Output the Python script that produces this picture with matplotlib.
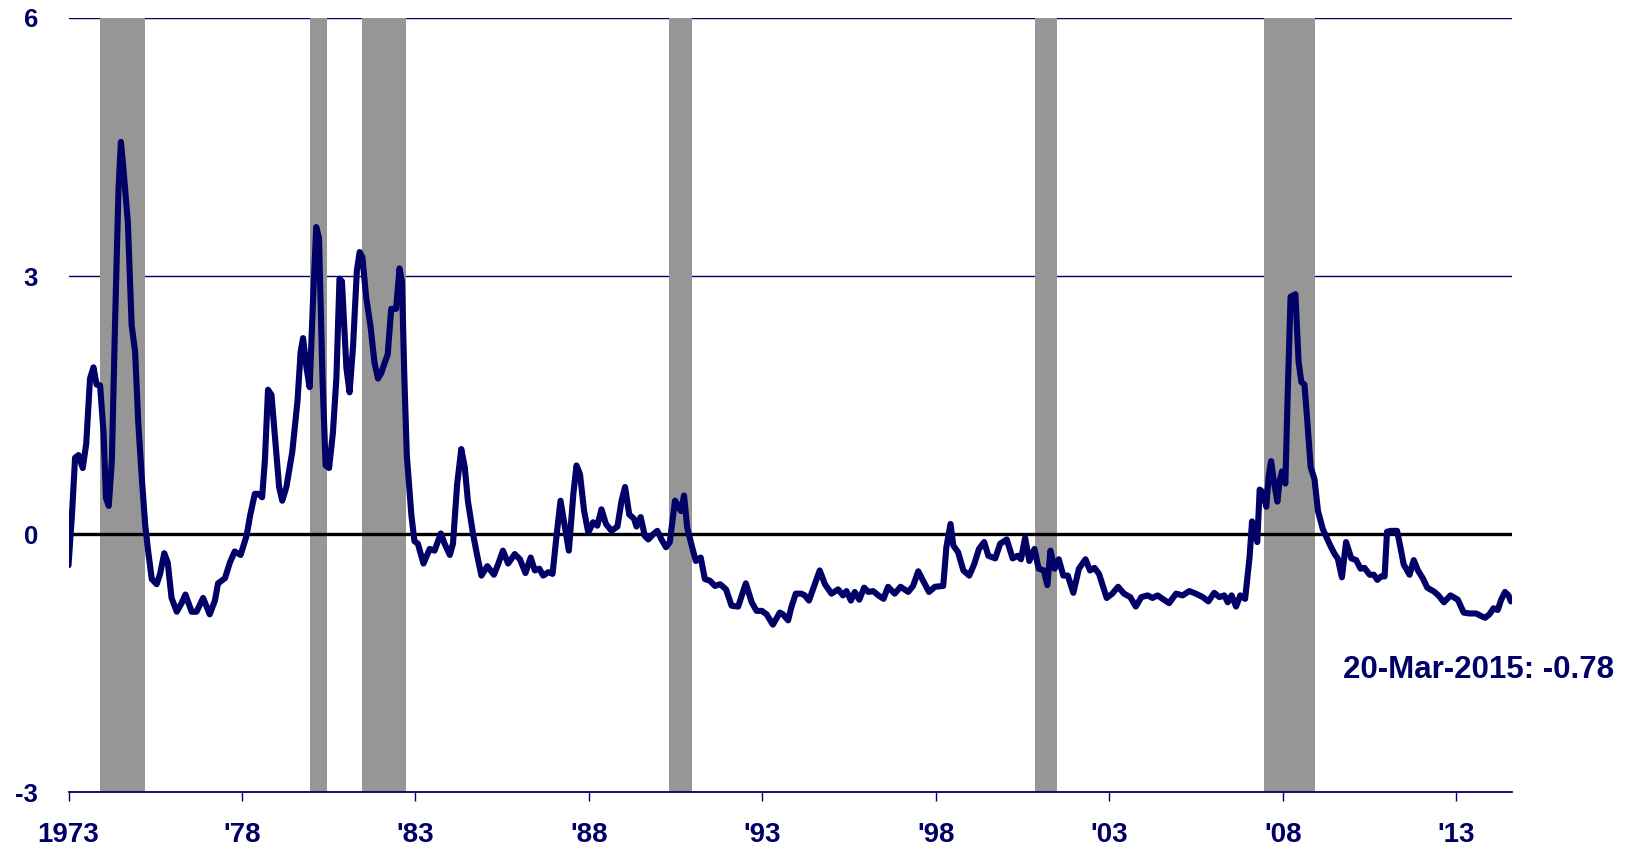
import numpy as np
import matplotlib
matplotlib.use("Agg")
import matplotlib.pyplot as plt

# series (x in the chart's year units)
years = [
    1973.00, 1973.10, 1973.19, 1973.29, 1973.41, 1973.51, 1973.62, 1973.72, 1973.81, 1973.91,
    1974.01, 1974.08, 1974.16, 1974.25, 1974.34, 1974.44, 1974.51, 1974.58, 1974.71, 1974.82,
    1974.92, 1975.01, 1975.11, 1975.21, 1975.30, 1975.40, 1975.54, 1975.64, 1975.76, 1975.86,
    1975.97, 1976.12, 1976.26, 1976.37, 1976.55, 1976.69, 1976.88, 1977.07, 1977.22, 1977.31,
    1977.51, 1977.65, 1977.79, 1977.96, 1978.13, 1978.24, 1978.37, 1978.47, 1978.58, 1978.66,
    1978.75, 1978.85, 1978.94, 1979.07, 1979.16, 1979.28, 1979.45, 1979.60, 1979.69, 1979.76,
    1979.86, 1979.95, 1980.05, 1980.14, 1980.22, 1980.32, 1980.41, 1980.51, 1980.62, 1980.72,
    1980.81, 1980.88, 1981.01, 1981.10, 1981.20, 1981.31, 1981.39, 1981.47, 1981.58, 1981.70,
    1981.82, 1981.92, 1982.01, 1982.11, 1982.20, 1982.30, 1982.44, 1982.54, 1982.61, 1982.68,
    1982.75, 1982.88, 1982.97,
    1983.07, 1983.23, 1983.41, 1983.55, 1983.73, 1983.84, 1983.99, 1984.08, 1984.20, 1984.32,
    1984.42, 1984.51, 1984.66, 1984.77, 1984.90, 1985.07, 1985.26, 1985.38, 1985.52, 1985.67,
    1985.86, 1986.01, 1986.17, 1986.32, 1986.44, 1986.57, 1986.68, 1986.83, 1986.95, 1987.07,
    1987.18, 1987.31, 1987.42, 1987.55, 1987.64, 1987.74, 1987.86, 1987.98, 1988.12, 1988.24,
    1988.36, 1988.49, 1988.65, 1988.82, 1988.94, 1989.04, 1989.16, 1989.30, 1989.37, 1989.49,
    1989.61, 1989.71, 1989.85, 1989.97, 1990.09, 1990.22, 1990.33, 1990.48, 1990.57, 1990.65,
    1990.74, 1990.83, 1990.96, 1991.08, 1991.22, 1991.34, 1991.49, 1991.63, 1991.78, 1991.95,
    1992.11, 1992.30, 1992.52, 1992.69, 1992.83, 1992.98, 1993.12, 1993.30,
    1993.50, 1993.59, 1993.74, 1993.83, 1993.96, 1994.12, 1994.22, 1994.34, 1994.51, 1994.65,
    1994.80, 1994.99, 1995.18, 1995.32, 1995.42, 1995.55, 1995.66, 1995.79, 1995.93, 1996.05,
    1996.19, 1996.34, 1996.49, 1996.62, 1996.81, 1996.98, 1997.20, 1997.34, 1997.49, 1997.63,
    1997.80, 1997.97, 1998.21, 1998.30, 1998.42, 1998.50, 1998.64, 1998.79, 1998.96, 1999.10,
    1999.24, 1999.39, 1999.51, 1999.71, 1999.85, 2000.04, 2000.21, 2000.35, 2000.45, 2000.57,
    2000.69, 2000.84, 2000.96, 2001.11, 2001.21, 2001.30, 2001.42, 2001.54, 2001.67, 2001.80,
    2001.96, 2002.12, 2002.31, 2002.44, 2002.57, 2002.70, 2002.92, 2003.08, 2003.25, 2003.42,
    2003.60, 2003.76, 2003.92, 2004.10, 2004.24, 2004.39, 2004.53, 2004.72, 2004.92, 2005.11,
    2005.30, 2005.49, 2005.69, 2005.85, 2006.02, 2006.17, 2006.31, 2006.41, 2006.52, 2006.65,
    2006.77, 2006.91,
    2007.04, 2007.11, 2007.18, 2007.26, 2007.33, 2007.42, 2007.52, 2007.59, 2007.66, 2007.74,
    2007.84, 2007.90, 2007.97, 2008.07, 2008.14, 2008.22, 2008.36, 2008.45, 2008.53, 2008.62,
    2008.70, 2008.80, 2008.91, 2009.01, 2009.15, 2009.34, 2009.49, 2009.58, 2009.70, 2009.82,
    2009.97, 2010.11, 2010.24, 2010.35, 2010.50, 2010.62, 2010.72, 2010.83, 2010.93, 2011.00,
    2011.12, 2011.29, 2011.39, 2011.48, 2011.65, 2011.77, 2011.89, 2012.03, 2012.16, 2012.37,
    2012.48, 2012.64, 2012.83, 2013.04, 2013.21, 2013.37, 2013.57, 2013.71, 2013.83, 2013.95,
    2014.07, 2014.19, 2014.29, 2014.40, 2014.50, 2014.57,
]
values = [
    -0.36, 0.23, 0.89, 0.92, 0.77, 1.05, 1.81, 1.94, 1.74, 1.73,
    1.18, 0.42, 0.33, 0.86, 2.43, 4.00, 4.56, 4.26, 3.63, 2.43,
    2.12, 1.30, 0.67, 0.11, -0.21, -0.52, -0.58, -0.46, -0.22, -0.33,
    -0.74, -0.90, -0.80, -0.70, -0.90, -0.90, -0.74, -0.93, -0.77, -0.57,
    -0.51, -0.33, -0.20, -0.24, -0.02, 0.23, 0.47, 0.47, 0.43, 0.86,
    1.68, 1.62, 1.18, 0.55, 0.39, 0.55, 0.96, 1.55, 2.12, 2.28,
    1.93, 1.71, 2.75, 3.57, 3.44, 1.81, 0.80, 0.77, 1.18, 1.81,
    2.97, 2.94, 1.93, 1.65, 2.18, 3.06, 3.28, 3.22, 2.75, 2.43,
    1.99, 1.81, 1.87, 1.99, 2.09, 2.62, 2.62, 3.09, 2.94, 1.81,
    0.92, 0.23, -0.08,
    -0.11, -0.34, -0.17, -0.19, 0.01, -0.11, -0.24, -0.11, 0.58, 0.99,
    0.78, 0.39, 0.00, -0.23, -0.48, -0.37, -0.47, -0.35, -0.19, -0.34,
    -0.23, -0.29, -0.45, -0.27, -0.42, -0.40, -0.48, -0.44, -0.46, 0.00,
    0.39, 0.08, -0.19, 0.47, 0.80, 0.70, 0.27, 0.02, 0.14, 0.10,
    0.29, 0.12, 0.04, 0.09, 0.39, 0.55, 0.23, 0.18, 0.09, 0.20,
    -0.02, -0.06, 0.00, 0.04, -0.06, -0.15, -0.09, 0.39, 0.33, 0.27,
    0.45, 0.08, -0.13, -0.31, -0.27, -0.52, -0.54, -0.60, -0.58, -0.64,
    -0.83, -0.84, -0.57, -0.79, -0.89, -0.89, -0.93, -1.05,
    -0.91, -0.93, -1.00, -0.85, -0.69, -0.69, -0.71, -0.77, -0.58, -0.42,
    -0.58, -0.69, -0.64, -0.71, -0.66, -0.77, -0.67, -0.76, -0.62, -0.67,
    -0.66, -0.71, -0.75, -0.61, -0.69, -0.61, -0.67, -0.60, -0.43, -0.54,
    -0.67, -0.61, -0.60, -0.15, 0.12, -0.13, -0.21, -0.42, -0.48, -0.35,
    -0.17, -0.09, -0.25, -0.28, -0.11, -0.06, -0.28, -0.25, -0.29, -0.04,
    -0.31, -0.17, -0.40, -0.42, -0.59, -0.19, -0.40, -0.29, -0.48, -0.48,
    -0.68, -0.40, -0.29, -0.42, -0.39, -0.46, -0.74, -0.69, -0.61, -0.69,
    -0.73, -0.84, -0.73, -0.71, -0.74, -0.71, -0.75, -0.80, -0.69, -0.71,
    -0.66, -0.69, -0.73, -0.78, -0.68, -0.73, -0.71, -0.79, -0.71, -0.84,
    -0.71, -0.75,
    -0.26, 0.15, 0.08, -0.09, 0.52, 0.49, 0.32, 0.68, 0.85, 0.61,
    0.38, 0.61, 0.73, 0.59, 1.67, 2.76, 2.79, 2.01, 1.77, 1.74,
    1.33, 0.78, 0.64, 0.27, 0.06, -0.11, -0.23, -0.28, -0.50, -0.09,
    -0.28, -0.30, -0.40, -0.39, -0.47, -0.47, -0.53, -0.49, -0.49, 0.03,
    0.04, 0.04, -0.16, -0.35, -0.47, -0.30, -0.42, -0.51, -0.62, -0.67,
    -0.71, -0.79, -0.71, -0.76, -0.91, -0.92, -0.92, -0.95, -0.97, -0.93,
    -0.86, -0.88, -0.76, -0.67, -0.71, -0.78,
]

# shaded recession periods (start, end) in the chart's year units
rec_start = [1973.90, 1979.97, 1981.46, 1990.30, 2000.85, 2007.46]
rec_end = [1975.20, 1980.44, 1982.74, 1990.96, 2001.50, 2008.92]

tick_years = [1973, 1978, 1983, 1988, 1993, 1998, 2003, 2008, 2013]
tick_labels = ["1973", "'78", "'83", "'88", "'93", "'98", "'03", "'08", "'13"]
y_ticks = [-3, 0, 3, 6]

last_label = "20-Mar-2015: -0.78"

navy = "#000066"

plt.rcParams['font.family'] = ['Liberation Sans', 'DejaVu Sans']

fig = plt.figure(figsize=(16.31, 8.48), dpi=100)
ax = fig.add_axes([0.042, 0.0655, 0.885, 0.9133])

for g in [3, 6]:
    ax.axhline(g, color=navy, lw=1.0, zorder=0)

for s, e in zip(rec_start, rec_end):
    ax.axvspan(s, e, color="#969696", lw=0, zorder=1)

ax.axhline(0, color="black", lw=2.4, zorder=2)
ax.plot(years, values, color=navy, lw=4.4, zorder=3,
        solid_joinstyle="round", solid_capstyle="round")

ax.set_xlim(1973.0, 2014.6)
ax.set_ylim(-3, 6)

ax.set_xticks(tick_years)
ax.set_xticklabels(tick_labels, fontsize=20, fontweight="bold", color=navy)
ax.set_yticks(y_ticks)
ax.set_yticklabels([str(v) for v in y_ticks], fontsize=18.5, fontweight="bold", color=navy)

ax.tick_params(axis="x", direction="out", length=6.5, width=1.0, color=navy, pad=15)
ax.tick_params(axis="y", length=0, pad=22)

for side in ["top", "right", "left"]:
    ax.spines[side].set_visible(False)
ax.spines["bottom"].set_color(navy)
ax.spines["bottom"].set_linewidth(1.3)
ax.spines["bottom"].set_zorder(4)

fig.text(1479 / 1631, 1 - 670.5 / 848, last_label, ha="center", va="center",
         fontsize=22.5, fontweight="bold", color=navy)

fig.savefig("out.png", dpi=100)
